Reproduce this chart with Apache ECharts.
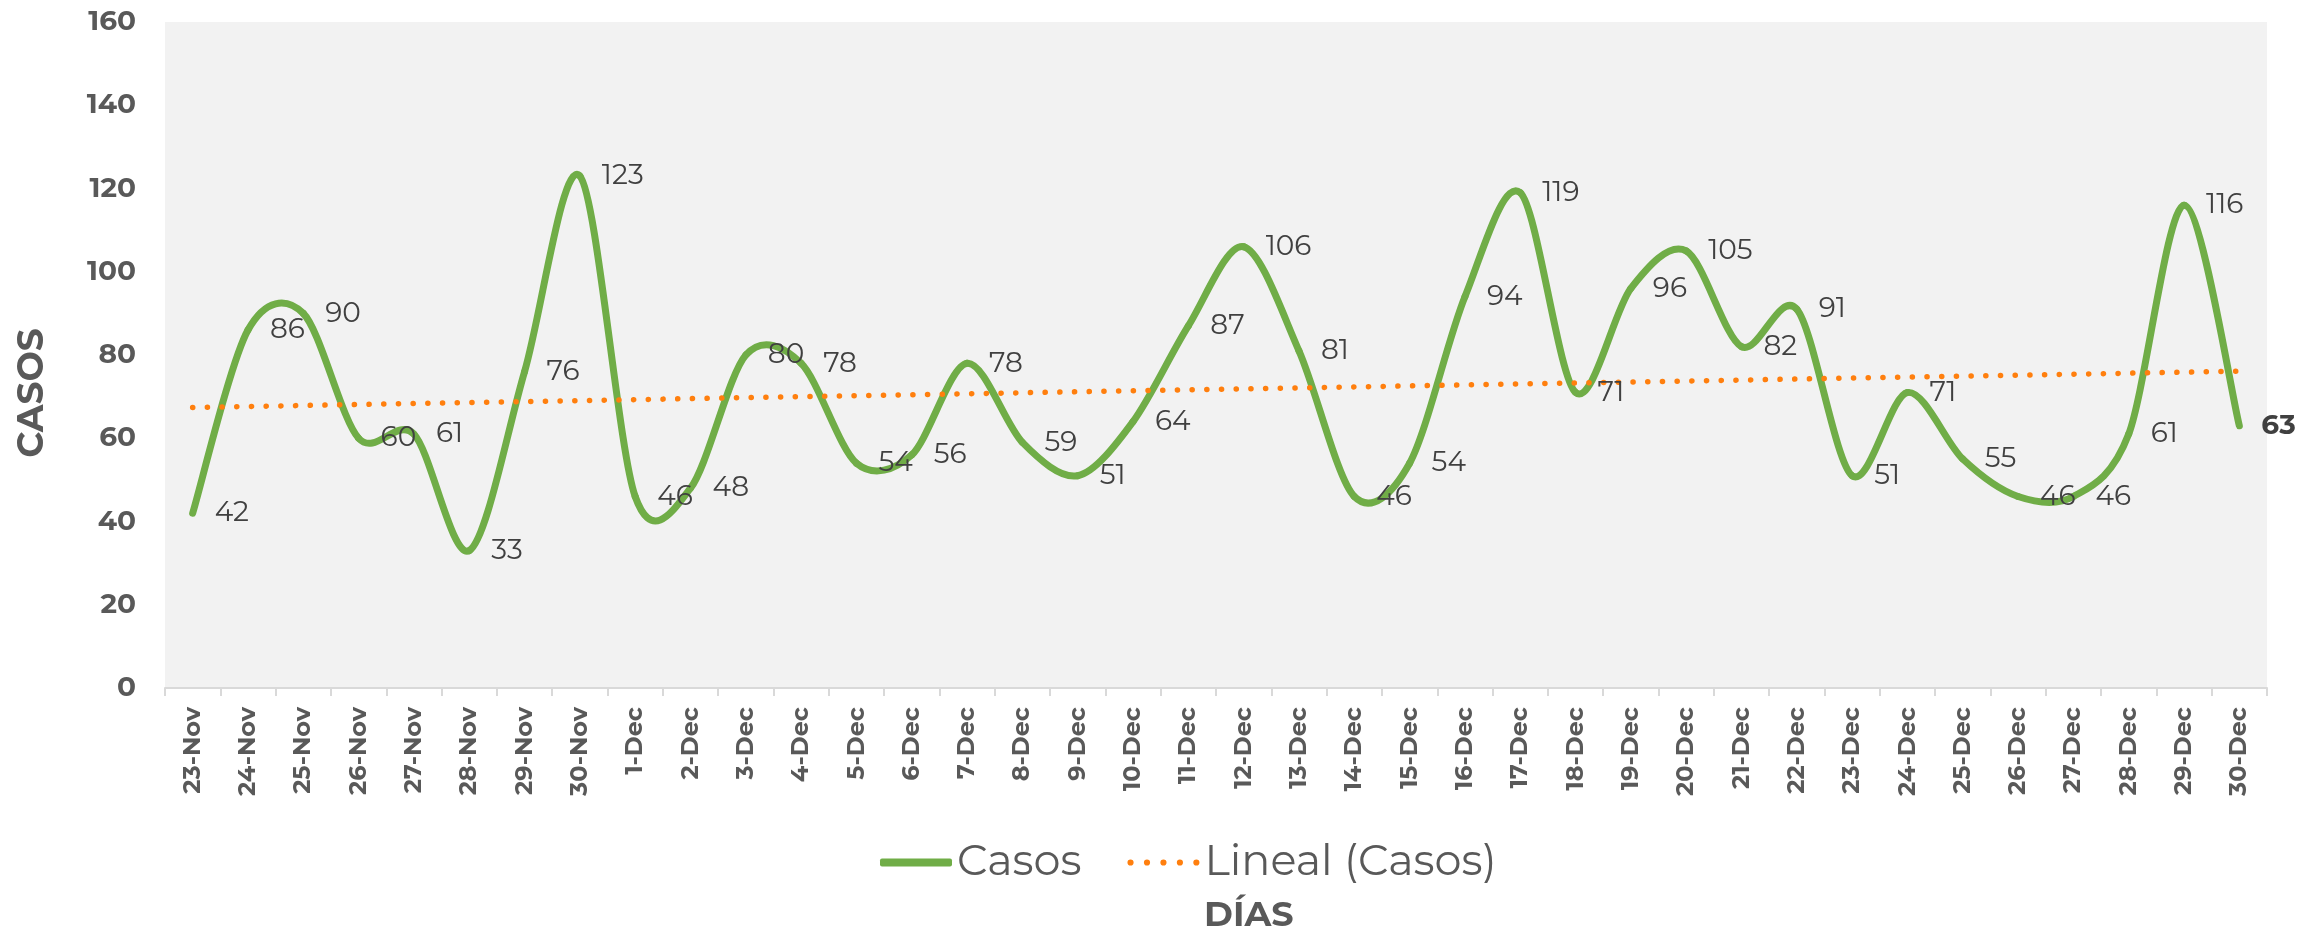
<!DOCTYPE html>
<html>
<head>
<meta charset="utf-8">
<title>Casos</title>
<script src="https://cdn.jsdelivr.net/npm/echarts@6/dist/echarts.min.js"></script>
<style>
  html, body { margin: 0; padding: 0; background: #fff; }
  #myChart { width: 2311px; height: 932px; }
</style>
</head>
<body>
<div id="myChart"></div>
<script>
  // datos
  const dias = ['23-Nov','24-Nov','25-Nov','26-Nov','27-Nov','28-Nov','29-Nov','30-Nov',
    '1-Dec','2-Dec','3-Dec','4-Dec','5-Dec','6-Dec','7-Dec','8-Dec','9-Dec','10-Dec',
    '11-Dec','12-Dec','13-Dec','14-Dec','15-Dec','16-Dec','17-Dec','18-Dec','19-Dec','20-Dec',
    '21-Dec','22-Dec','23-Dec','24-Dec','25-Dec','26-Dec','27-Dec','28-Dec','29-Dec','30-Dec'];
  const casos = [42, 86, 90, 60, 61, 33, 76, 123, 46, 48, 80, 78, 54, 56, 78, 59, 51, 64,
    87, 106, 81, 46, 54, 94, 119, 71, 96, 105, 82, 91, 51, 71, 55, 46, 46, 61, 116, 63];
  // linea de tendencia (Lineal): valor al inicio y al final
  const tendencia = [67.4, 76.1];
  const yTicks = { min: 0, max: 160, interval: 20 };

  const fuente = 'Montserrat, "DejaVu Sans", sans-serif';
  const verde = '#70ad47';
  const naranja = '#ff7f0e';

  // serie de tendencia: solo extremos, el resto se une
  const tendData = dias.map(function (d, i) {
    if (i === 0) return tendencia[0];
    if (i === dias.length - 1) return tendencia[1];
    return null;
  });

  const etiquetas = casos.map(function (v, i) {
    if (i === casos.length - 1) {
      return { value: v, label: { fontWeight: 'bold', color: '#404040' } };
    }
    return v;
  });

  // curva suavizada tipo Excel (Catmull-Rom), un tramo por punto
  function tramo(params, api) {
    const i = params.dataIndex;
    if (i >= casos.length - 1) return null;
    const p = function (j) {
      j = Math.max(0, Math.min(casos.length - 1, j));
      return api.coord([j, casos[j]]);
    };
    const p0 = p(i - 1), p1 = p(i), p2 = p(i + 1), p3 = p(i + 2);
    const k = 0.155;
    return {
      type: 'bezierCurve',
      shape: {
        x1: p1[0], y1: p1[1],
        x2: p2[0], y2: p2[1],
        cpx1: p1[0] + (p2[0] - p0[0]) * k,
        cpy1: p1[1] + (p2[1] - p0[1]) * k,
        cpx2: p2[0] - (p3[0] - p1[0]) * k,
        cpy2: p2[1] - (p3[1] - p1[1]) * k
      },
      style: { stroke: verde, lineWidth: 7, fill: null, lineCap: 'round', lineJoin: 'round' }
    };
  }

  const puntos = 'path://M0,3a3,3 0 1,0 6,0a3,3 0 1,0 -6,0z' +
    'M16,3a3,3 0 1,0 6,0a3,3 0 1,0 -6,0z' +
    'M32,3a3,3 0 1,0 6,0a3,3 0 1,0 -6,0z' +
    'M48,3a3,3 0 1,0 6,0a3,3 0 1,0 -6,0z' +
    'M64,3a3,3 0 1,0 6,0a3,3 0 1,0 -6,0z';

  let myChart = echarts.init(document.getElementById('myChart'));
  myChart.setOption({
    animation: false,
    textStyle: { fontFamily: fuente },
    grid: {
      left: 165,
      right: 44,
      top: 22,
      bottom: 244,
      show: true,
      backgroundColor: '#f2f2f2',
      borderWidth: 0
    },
    legend: {
      left: 875,
      top: 836,
      itemWidth: 72,
      itemHeight: 8,
      itemGap: 46,
      textStyle: { fontSize: 43, color: '#595959', fontFamily: fuente },
      data: [
        { name: 'Casos', icon: 'roundRect' },
        { name: 'Lineal (Casos)', icon: puntos }
      ]
    },
    title: {
      text: 'DÍAS',
      left: 1199,
      top: 893,
      textStyle: { fontSize: 35, fontWeight: 'bold', color: '#595959', fontFamily: fuente }
    },
    graphic: [{
      type: 'text',
      x: 32,
      y: 393,
      rotation: Math.PI / 2,
      style: {
        text: 'CASOS',
        font: 'bold 36px ' + fuente,
        fill: '#595959',
        textAlign: 'center',
        textVerticalAlign: 'middle'
      }
    }],
    xAxis: {
      type: 'category',
      data: dias,
      axisLine: { lineStyle: { color: '#d9d9d9', width: 2 } },
      axisTick: { show: true, length: 8, lineStyle: { color: '#d9d9d9', width: 2 } },
      axisLabel: {
        interval: 0,
        rotate: 90,
        margin: 19,
        fontSize: 24,
        fontWeight: 'bold',
        color: '#595959'
      }
    },
    yAxis: {
      type: 'value',
      min: yTicks.min,
      max: yTicks.max,
      interval: yTicks.interval,
      splitLine: { show: false },
      axisLine: { show: false },
      axisTick: { show: false },
      axisLabel: {
        margin: 29,
        fontSize: 28,
        fontWeight: 'bold',
        color: '#595959'
      }
    },
    series: [
      {
        name: 'Casos',
        type: 'custom',
        data: casos.map(function (v, i) { return [i, v]; }),
        encode: { x: 0, y: 1 },
        renderItem: tramo,
        itemStyle: { color: verde },
        z: 2
      },
      {
        name: 'etiquetas',
        type: 'line',
        data: etiquetas,
        symbol: 'circle',
        symbolSize: 0,
        showSymbol: true,
        lineStyle: { opacity: 0, width: 0 },
        itemStyle: { color: verde },
        label: {
          show: true,
          position: 'right',
          distance: 22,
          fontSize: 28,
          color: '#404040',
          fontFamily: fuente
        },
        z: 4
      },
      {
        name: 'Lineal (Casos)',
        type: 'line',
        data: tendData,
        connectNulls: true,
        symbol: 'none',
        lineStyle: { color: naranja, width: 5.5, type: [0.1, 14.6], cap: 'round' },
        itemStyle: { color: naranja },
        z: 3
      }
    ]
  });
</script>
</body>
</html>
